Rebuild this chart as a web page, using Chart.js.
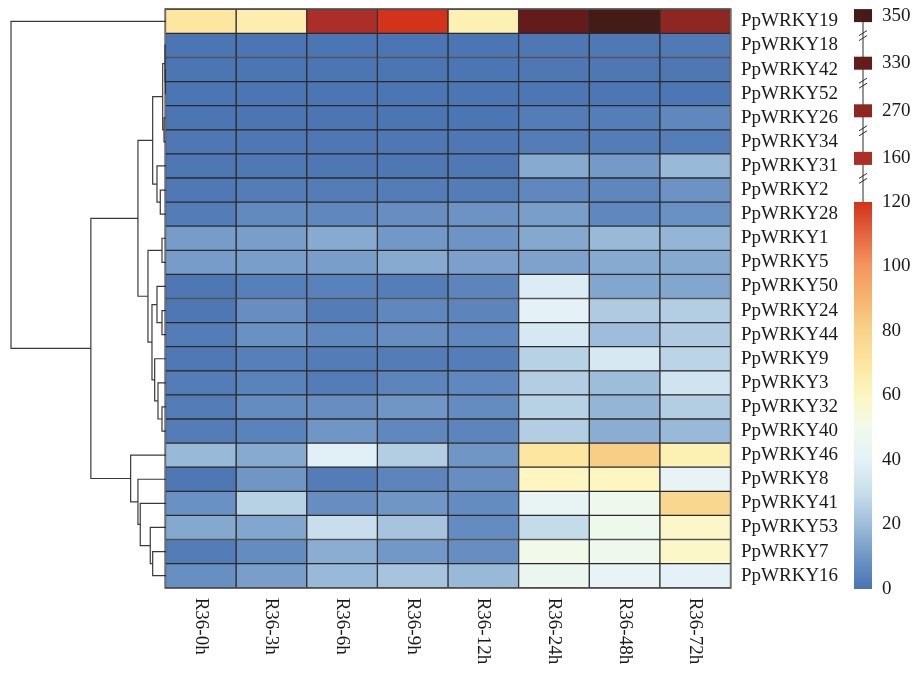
<!DOCTYPE html>
<html>
<head>
<meta charset="utf-8">
<script src="https://cdn.jsdelivr.net/npm/chart.js@4.4.1/dist/chart.umd.min.js"></script>
<style>
  body { margin: 0; background: #fff; }
  #wrap { position: relative; width: 916px; height: 673px; }
  canvas { position: absolute; top: 0; }
</style>
</head>
<body>
<div id="wrap">
  <canvas id="dendro" width="166" height="673" style="left:0"></canvas>
  <canvas id="heat" width="916" height="673" style="left:0"></canvas>
  <canvas id="scaleBar" width="76" height="673" style="left:840px"></canvas>
</div>
<script>
const genes = ['PpWRKY19', 'PpWRKY18', 'PpWRKY42', 'PpWRKY52', 'PpWRKY26', 'PpWRKY34', 'PpWRKY31', 'PpWRKY2',
    'PpWRKY28', 'PpWRKY1', 'PpWRKY5', 'PpWRKY50', 'PpWRKY24', 'PpWRKY44', 'PpWRKY9', 'PpWRKY3',
    'PpWRKY32', 'PpWRKY40', 'PpWRKY46', 'PpWRKY8', 'PpWRKY41', 'PpWRKY53', 'PpWRKY7', 'PpWRKY16'];
const timePoints = ['R36-0h', 'R36-3h', 'R36-6h', 'R36-9h', 'R36-12h', 'R36-24h', 'R36-48h', 'R36-72h'];

// one row per gene, one value per time point
const expression = [
    [70, 65, 160, 120, 64, 330, 350, 270],
    [0.5, 0.5, 0.5, 0.6, 0.6, 1.2, 1.3, 1.6],
    [0.5, 0.5, 0.6, 0.5, 0.6, 1.0, 1.0, 1.2],
    [0.5, 0.5, 0.6, 0.5, 0.5, 0.8, 0.8, 0.9],
    [0.6, 0.7, 0.7, 0.6, 0.6, 2.5, 3.0, 6.0],
    [1.0, 1.0, 1.0, 1.0, 1.0, 2.5, 2.5, 3.0],
    [1.0, 1.5, 1.0, 1.0, 1.5, 15, 11, 19],
    [1.5, 2.5, 2.5, 2.5, 2.5, 6, 5.5, 9],
    [2.5, 6.5, 6, 7.5, 9, 12, 6, 8.5],
    [11.5, 12, 15, 10.5, 9.5, 14.5, 19, 18],
    [11.5, 12, 12, 15, 12.5, 13, 15, 15],
    [1, 3.5, 4, 3, 5, 37, 14, 14],
    [1, 7.5, 2.5, 6, 5, 40, 24, 25],
    [2.5, 8.5, 6, 7.5, 6, 35, 20, 24],
    [1.5, 3.5, 2.5, 2.5, 3, 26, 35, 27],
    [2.5, 4.5, 2.5, 5, 6, 25, 20, 33],
    [2.5, 7, 7.5, 10, 7, 26, 18, 25],
    [2.5, 4.5, 10, 6, 5, 25, 16, 19],
    [19, 15, 39, 25, 10, 70, 82, 64],
    [1, 10, 2.5, 5, 7.5, 60, 60, 42],
    [8.5, 26, 7.5, 10, 7, 43, 48, 78],
    [14.5, 14, 30, 22, 7, 29, 48, 58],
    [2.5, 7, 16, 10.5, 7.5, 50, 48, 58],
    [8, 12, 19, 22, 19, 45, 42, 40]
];

// row clustering: [childA, childB, height]; numbers are rows, 'nK' is merge K
const merges = [
    [2, 3, 0.5], [1, 'n0', 1], [4, 5, 2], ['n1', 'n2', 3.3], [7, 8, 5.7], [6, 'n4', 9],
    ['n3', 'n5', 13.3], [9, 10, 4], [12, 13, 4], [11, 'n8', 9], [16, 17, 4], [15, 'n10', 8],
    [14, 'n11', 11.3], ['n9', 'n12', 14], ['n7', 'n13', 18], ['n6', 'n14', 28],
    [22, 23, 13.3], [21, 'n16', 15.7], [20, 'n17', 25.7], [19, 'n18', 28], [18, 'n19', 35.3],
    ['n15', 'n20', 75], [0, 'n21', 154.7]
];

const legendTicks = [0, 20, 40, 60, 80, 100, 120];
const breakValues = [350, 330, 270, 160];

const colorStops = [
    [0, '#4a73b2'], [10, '#7096c6'], [20, '#9ebdda'], [30, '#c8deec'], [40, '#e4f2f7'],
    [50, '#f1f9ea'], [60, '#fdf6c0'], [70, '#fce6a0'], [80, '#f8d38a'], [90, '#f6b470'],
    [100, '#f4965f'], [110, '#e56541'], [120, '#d3321b'], [160, '#ab2f28'], [270, '#8e2722'],
    [330, '#631b1b'], [350, '#451b17']
];

const SERIF = "'Liberation Serif', 'Times New Roman', serif";
const TEXT = '#1a1a1a';
const LINE = '#2b2b2b';

function hexToRgb(h) {
    return [1, 3, 5].map(i => parseInt(h.slice(i, i + 2), 16));
}

function colorFor(v) {
    if (v <= colorStops[0][0]) return colorStops[0][1];
    for (let i = 1; i < colorStops.length; i++) {
        const [v1, c1] = colorStops[i];
        if (v <= v1) {
            const [v0, c0] = colorStops[i - 1];
            const t = (v - v0) / (v1 - v0);
            const a = hexToRgb(c0), b = hexToRgb(c1);
            const rgb = a.map((x, k) => Math.round(x + (b[k] - x) * t));
            return `rgb(${rgb.join(',')})`;
        }
    }
    return colorStops[colorStops.length - 1][1];
}

function buildDendrogram() {
    const nodes = {};
    const at = k => typeof k === 'number' ? { h: 0, y: k + 0.5 } : nodes[k];
    return merges.map(([a, b, h], i) => {
        const pa = at(a), pb = at(b);
        nodes['n' + i] = { h, y: (pa.y + pb.y) / 2 };
        return [{ x: pa.h, y: pa.y }, { x: h, y: pa.y }, { x: h, y: pb.y }, { x: pb.h, y: pb.y }];
    });
}

// keep the axis from pushing the plot area around
function fixAxis(width) {
    return s => {
        s.width = width;
        s.paddingTop = 0;
        s.paddingBottom = 0;
    };
}

const columnLabels = {
    id: 'columnLabels',
    afterDraw(chart) {
        const { ctx, chartArea, scales: { x } } = chart;
        ctx.save();
        ctx.strokeStyle = LINE;
        ctx.lineWidth = 1;
        ctx.strokeRect(chartArea.left - 0.5, chartArea.top - 0.5, chartArea.width + 1, chartArea.height + 1);
        ctx.font = `19px ${SERIF}`;
        ctx.fillStyle = TEXT;
        ctx.textAlign = 'left';
        ctx.textBaseline = 'middle';
        timePoints.forEach((t, c) => {
            ctx.save();
            ctx.translate(x.getPixelForValue(c + 0.5), chartArea.bottom + 10);
            ctx.rotate(Math.PI / 2);
            ctx.fillText(t, 0, 0);
            ctx.restore();
        });
        ctx.restore();
    }
};

const scaleBreaks = {
    id: 'scaleBreaks',
    afterDraw(chart) {
        const { ctx, chartArea } = chart;
        const cx = (chartArea.left + chartArea.right) / 2;
        ctx.save();
        ctx.strokeStyle = LINE;
        ctx.lineWidth = 1;
        ctx.beginPath();
        ctx.moveTo(cx, 16);
        ctx.lineTo(cx, chartArea.top);
        ctx.stroke();
        ctx.font = `19px ${SERIF}`;
        ctx.textAlign = 'left';
        ctx.textBaseline = 'middle';
        breakValues.forEach((v, i) => {
            const yc = 15.6 + i * 47.6;
            ctx.fillStyle = colorFor(v);
            ctx.fillRect(chartArea.left, yc - 6.5, chartArea.width, 13);
            ctx.fillStyle = TEXT;
            ctx.fillText(String(v), chartArea.right + 10, yc);
            const yb = yc + 20;
            ctx.beginPath();
            [-2.5, 2.5].forEach(d => {
                ctx.moveTo(cx - 4, yb + d + 2.5);
                ctx.lineTo(cx + 4, yb + d - 2.5);
            });
            ctx.stroke();
        });
        ctx.restore();
    }
};

function barGradient(chart) {
    const { ctx, chartArea, scales } = chart;
    if (!chartArea || !scales.y) return colorStops[0][1];
    const y0 = scales.y.getPixelForValue(0), y1 = scales.y.getPixelForValue(120);
    const g = ctx.createLinearGradient(0, y0, 0, y1);
    colorStops.filter(s => s[0] <= 120).forEach(([v, c]) => g.addColorStop(v / 120, c));
    return g;
}

new Chart(document.getElementById('dendro'), {
    type: 'scatter',
    data: {
        datasets: buildDendrogram().map(pts => ({
            data: pts,
            showLine: true,
            borderColor: '#3a3a3a',
            borderWidth: 1.2,
            pointRadius: 0,
            clip: false
        }))
    },
    options: {
        responsive: false,
        animation: false,
        layout: { autoPadding: false, padding: { left: 11, right: 0, top: 9.3, bottom: 85.3 } },
        plugins: { legend: { display: false }, tooltip: { enabled: false } },
        scales: {
            x: { type: 'linear', min: 0, max: 154.7, reverse: true, display: false },
            y: { type: 'linear', min: 0, max: genes.length, reverse: true, display: false }
        }
    }
});

new Chart(document.getElementById('heat'), {
    type: 'bar',
    data: {
        labels: genes,
        datasets: timePoints.map((t, c) => ({
            label: t,
            data: genes.map(() => [c, c + 1]),
            backgroundColor: expression.map(row => colorFor(row[c])),
            borderColor: LINE,
            borderWidth: 1,
            borderSkipped: false,
            grouped: false,
            barPercentage: 1,
            categoryPercentage: 1
        }))
    },
    options: {
        indexAxis: 'y',
        responsive: false,
        animation: false,
        layout: { autoPadding: false, padding: { left: 165.5, right: 0, top: 9.3, bottom: 85.3 } },
        plugins: { legend: { display: false }, tooltip: { enabled: false } },
        scales: {
            x: { type: 'linear', min: 0, max: timePoints.length, display: false },
            y: {
                type: 'category',
                position: 'right',
                offset: true,
                grid: { display: false, drawTicks: false },
                border: { display: false },
                ticks: { autoSkip: false, padding: 10.5, color: TEXT, font: { family: SERIF, size: 19 } },
                afterFit: fixAxis(185.5)
            }
        }
    },
    plugins: [columnLabels]
});

new Chart(document.getElementById('scaleBar'), {
    type: 'bar',
    data: {
        labels: ['scale'],
        datasets: [{
            data: [[0, 120]],
            backgroundColor: ctx => barGradient(ctx.chart),
            borderWidth: 0,
            barPercentage: 1,
            categoryPercentage: 1
        }]
    },
    options: {
        responsive: false,
        animation: false,
        layout: { autoPadding: false, padding: { left: 14, right: 0, top: 202, bottom: 84 } },
        plugins: { legend: { display: false }, tooltip: { enabled: false } },
        scales: {
            x: { display: false },
            y: {
                position: 'right',
                min: 0,
                max: 120,
                grid: { display: false, drawTicks: false },
                border: { display: false },
                afterBuildTicks: s => { s.ticks = legendTicks.map(v => ({ value: v })); },
                ticks: { padding: 10, color: TEXT, font: { family: SERIF, size: 19 } },
                afterFit: fixAxis(44)
            }
        }
    },
    plugins: [scaleBreaks]
});
</script>
</body>
</html>
